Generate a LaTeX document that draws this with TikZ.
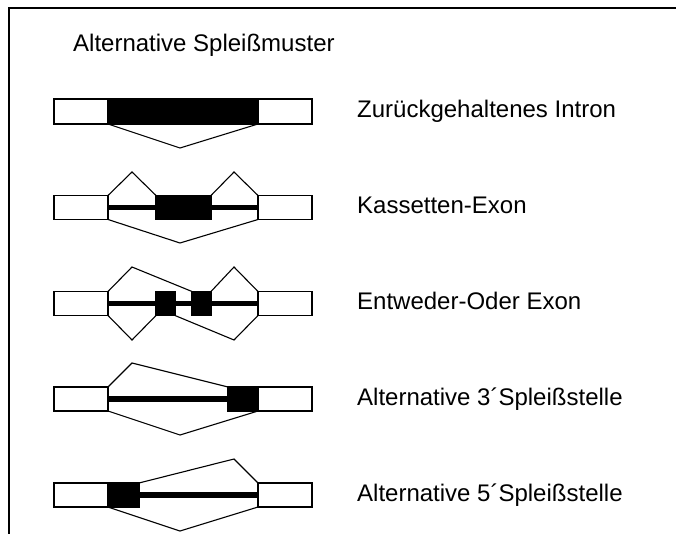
\documentclass[tikz,border=0pt]{standalone}
\usepackage{fontspec}
\setmainfont{Liberation Sans}
\begin{document}
\begin{tikzpicture}[x=1pt,y=-1pt,
  utr/.style={draw=black, fill=white, line width=1.1pt, minimum width=54, minimum height=24, inner sep=0, outer sep=0},
  exon/.style={draw=black, fill=black, line width=1.1pt, minimum height=24, inner sep=0, outer sep=0},
  intronbar/.style={line width=5.5pt},
  splice/.style={line width=1.1pt, line join=miter},
  lbl/.style={anchor=base west, inner sep=0, font=\fontsize{24}{28}\selectfont},
  frame/.style={line width=2pt}]
\useasboundingbox (0,0) rectangle (676,534);

% open frame: left and top edges only
\coordinate (fbl) at (9,534);
\coordinate (ftl) at (9,8);
\coordinate (ftr) at (676,8);
\draw[frame] (fbl) -- (ftl) -- (ftr);

\node[lbl] (title) at (73,52) {Alternative Spleißmuster};

% --- retained intron ---
\node[utr, minimum height=25] (l1) at (81,111.5) {};
\node[exon, minimum width=150, minimum height=25] (e1) at (183,111.5) {};
\node[utr, minimum height=25] (r1) at (285,111.5) {};
\coordinate (v1) at (180,148);
\draw[splice] (e1.south west) -- (v1) -- (e1.south east);
\node[lbl] (t1) at (357,117.5) {Zurückgehaltenes Intron};

% --- cassette exon ---
\node[utr] (l2) at (81,207.5) {};
\node[utr] (r2) at (285,207.5) {};
\draw[intronbar] (l2.east) -- (r2.west);
\node[exon, minimum width=55] (e2) at (183.5,207.5) {};
\coordinate (p2a) at (132,172);
\coordinate (p2b) at (234,172);
\coordinate (v2) at (180,243);
\draw[splice] (l2.north east) -- (p2a) -- (e2.north west);
\draw[splice] (e2.north east) -- (p2b) -- (r2.north west);
\draw[splice] (l2.south east) -- (v2) -- (r2.south west);
\node[lbl] (t2) at (357,213.5) {Kassetten-Exon};

% --- mutually exclusive exons ---
\node[utr] (l3) at (81,303.5) {};
\node[utr] (r3) at (285,303.5) {};
\draw[intronbar] (l3.east) -- (r3.west);
\node[exon, minimum width=19] (e3a) at (165.5,303.5) {};
\node[exon, minimum width=19] (e3b) at (201.5,303.5) {};
\coordinate (p3a) at (132,267);
\coordinate (p3b) at (234,267);
\coordinate (v3a) at (132,340);
\coordinate (v3b) at (234,340);
\draw[splice] (l3.north east) -- (p3a) -- (e3b.north west);
\draw[splice] (e3b.north east) -- (p3b) -- (r3.north west);
\draw[splice] (l3.south east) -- (v3a) -- (e3a.south west);
\draw[splice] (e3a.south east) -- (v3b) -- (r3.south west);
\node[lbl] (t3) at (357,309.5) {Entweder-Oder Exon};

% --- alternative 3' splice site ---
\node[utr] (l4) at (81,399) {};
\node[utr] (r4) at (285,399) {};
\draw[intronbar] (l4.east) -- (r4.west);
\node[exon, minimum width=30] (e4) at (243,399) {};
\coordinate (p4) at (132,363);
\coordinate (v4) at (180,435);
\draw[splice] (l4.north east) -- (p4) -- (e4.north west);
\draw[splice] (l4.south east) -- (v4) -- (r4.south west);
\node[lbl] (t4) at (357,405) {Alternative 3´Spleißstelle};

% --- alternative 5' splice site ---
\node[utr] (l5) at (81,495) {};
\node[utr] (r5) at (285,495) {};
\draw[intronbar] (l5.east) -- (r5.west);
\node[exon, minimum width=31] (e5) at (123.5,495) {};
\coordinate (p5) at (234,459);
\coordinate (v5) at (180,531);
\draw[splice] (e5.north east) -- (p5) -- (r5.north west);
\draw[splice] (l5.south east) -- (v5) -- (r5.south west);
\node[lbl] (t5) at (357,501) {Alternative 5´Spleißstelle};
\end{tikzpicture}
\end{document}
